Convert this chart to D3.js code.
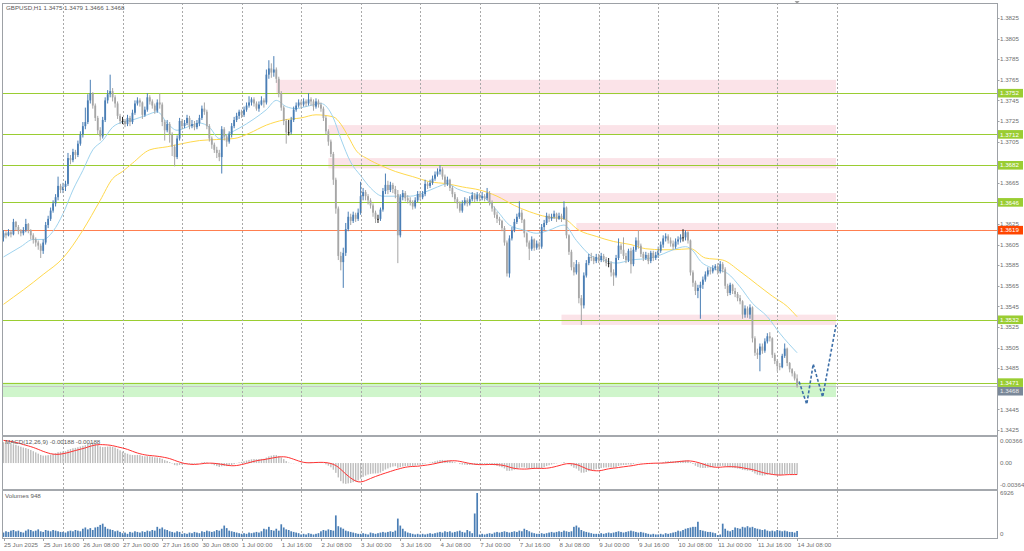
<!DOCTYPE html>
<html><head><meta charset="utf-8">
<script src="https://cdn.jsdelivr.net/npm/d3@7"></script>
<style>
body{margin:0;background:#fff;overflow:hidden;}
svg{display:block;font-family:"Liberation Sans",Arial,sans-serif;}
</style></head><body>
<svg id="c" width="1024" height="551"></svg>
<script>
// ---------------- DATA ----------------
const symbolTitle = "GBPUSD,H1  1.3475 1.3479 1.3466 1.3468";
const macdTitle = "MACD(12,26,9) -0.00188 -0.00188";
const volTitle = "Volumes 948";
const firstOpen = 1.3612;
const closes = [
1.3616,1.3614,1.3617,1.3615,1.3627,1.3622,1.3618,1.3616,1.3619,1.3625,1.3619,1.3614,1.3610,1.3607,1.3604,1.3599,1.3607,1.3624,1.3630,1.3638,1.3645,1.3651,1.3662,1.3658,
1.3661,1.3664,1.3689,1.3687,1.3695,1.3692,1.3703,1.3712,1.3720,1.3724,1.3745,1.3752,1.3740,1.3728,1.3716,1.3710,1.3726,1.3745,1.3751,1.3754,1.3748,1.3742,1.3730,1.3725,
1.3725,1.3722,1.3728,1.3724,1.3733,1.3742,1.3745,1.3743,1.3731,1.3736,1.3748,1.3744,1.3740,1.3735,1.3743,1.3741,1.3724,1.3716,1.3722,1.3712,1.3700,1.3690,1.3708,1.3725,
1.3720,1.3723,1.3728,1.3720,1.3722,1.3719,1.3723,1.3728,1.3737,1.3734,1.3720,1.3708,1.3702,1.3697,1.3694,1.3690,1.3717,1.3710,1.3705,1.3712,1.3720,1.3726,1.3730,1.3734,
1.3731,1.3736,1.3740,1.3743,1.3746,1.3742,1.3737,1.3741,1.3745,1.3743,1.3770,1.3776,1.3772,1.3775,1.3766,1.3752,1.3738,1.3725,1.3714,1.3714,1.3726,1.3736,1.3740,1.3743,
1.3741,1.3744,1.3742,1.3746,1.3744,1.3739,1.3744,1.3741,1.3737,1.3728,1.3715,1.3705,1.3693,1.3668,1.3640,1.3594,1.3588,1.3597,1.3620,1.3632,1.3628,1.3634,1.3630,1.3636,
1.3652,1.3656,1.3652,1.3648,1.3643,1.3636,1.3630,1.3630,1.3639,1.3657,1.3663,1.3658,1.3663,1.3659,1.3654,1.3614,1.3651,1.3655,1.3650,1.3648,1.3646,1.3642,1.3648,1.3654,
1.3651,1.3654,1.3664,1.3662,1.3665,1.3669,1.3673,1.3676,1.3678,1.3671,1.3664,1.3668,1.3660,1.3654,1.3649,1.3645,1.3638,1.3645,1.3648,1.3645,1.3649,1.3653,1.3649,1.3653,
1.3650,1.3652,1.3650,1.3655,1.3646,1.3640,1.3634,1.3630,1.3628,1.3621,1.3607,1.3577,1.3611,1.3619,1.3627,1.3632,1.3636,1.3629,1.3616,1.3607,1.3601,1.3610,1.3602,1.3606,
1.3603,1.3622,1.3626,1.3633,1.3630,1.3632,1.3635,1.3630,1.3633,1.3630,1.3641,1.3614,1.3598,1.3583,1.3578,1.3586,1.3553,1.3546,1.3575,1.3587,1.3593,1.3592,1.3589,1.3593,
1.3590,1.3594,1.3591,1.3587,1.3587,1.3578,1.3575,1.3592,1.3604,1.3600,1.3594,1.3590,1.3599,1.3586,1.3600,1.3609,1.3604,1.3596,1.3592,1.3595,1.3589,1.3597,1.3592,1.3595,
1.3599,1.3605,1.3611,1.3613,1.3609,1.3606,1.3603,1.3608,1.3610,1.3612,1.3612,1.3617,1.3609,1.3578,1.3568,1.3560,1.3563,1.3566,1.3571,1.3576,1.3580,1.3579,1.3582,1.3584,
1.3579,1.3586,1.3581,1.3565,1.3558,1.3566,1.3560,1.3557,1.3553,1.3550,1.3537,1.3543,1.3537,1.3544,1.3514,1.3500,1.3498,1.3506,1.3502,1.3511,1.3516,1.3514,1.3498,1.3492,
1.3487,1.3486,1.3497,1.3504,1.3490,1.3484,1.3480,1.3475,1.3468];
const highs = [
1.3619,1.3618,1.3620,1.3619,1.3630,1.3628,1.3624,1.3620,1.3622,1.3630,1.3626,1.3620,1.3616,1.3612,1.3609,1.3606,1.3610,1.3627,1.3633,1.3641,1.3648,1.3654,1.3671,1.3664,
1.3665,1.3667,1.3694,1.3692,1.3698,1.3697,1.3706,1.3715,1.3724,1.3738,1.3751,1.3765,1.3753,1.3742,1.3730,1.3719,1.3729,1.3748,1.3755,1.3770,1.3757,1.3750,1.3744,1.3732,
1.3729,1.3727,1.3731,1.3730,1.3736,1.3745,1.3748,1.3747,1.3744,1.3739,1.3752,1.3750,1.3746,1.3742,1.3746,1.3752,1.3743,1.3726,1.3726,1.3724,1.3714,1.3702,1.3711,1.3728,
1.3727,1.3726,1.3731,1.3730,1.3726,1.3725,1.3726,1.3731,1.3740,1.3743,1.3736,1.3722,1.3710,1.3704,1.3700,1.3697,1.3720,1.3719,1.3712,1.3715,1.3723,1.3729,1.3733,1.3736,
1.3736,1.3739,1.3743,1.3749,1.3748,1.3748,1.3744,1.3744,1.3749,1.3747,1.3775,1.3784,1.3781,1.3788,1.3777,1.3768,1.3754,1.3740,1.3727,1.3726,1.3729,1.3739,1.3743,1.3746,
1.3745,1.3747,1.3746,1.3752,1.3748,1.3746,1.3747,1.3746,1.3743,1.3739,1.3730,1.3717,1.3707,1.3695,1.3670,1.3642,1.3598,1.3602,1.3626,1.3637,1.3635,1.3637,1.3636,1.3640,
1.3666,1.3660,1.3658,1.3654,1.3650,1.3645,1.3638,1.3634,1.3641,1.3660,1.3674,1.3667,1.3666,1.3665,1.3662,1.3658,1.3654,1.3658,1.3657,1.3653,1.3651,1.3648,1.3651,1.3657,
1.3657,1.3657,1.3668,1.3666,1.3668,1.3672,1.3676,1.3679,1.3682,1.3680,1.3673,1.3671,1.3669,1.3662,1.3656,1.3651,1.3647,1.3648,1.3651,1.3650,1.3652,1.3656,1.3655,1.3656,
1.3655,1.3656,1.3654,1.3660,1.3657,1.3648,1.3642,1.3637,1.3632,1.3629,1.3623,1.3609,1.3614,1.3622,1.3630,1.3635,1.3647,1.3639,1.3630,1.3617,1.3609,1.3613,1.3611,1.3609,
1.3608,1.3625,1.3629,1.3636,1.3635,1.3635,1.3638,1.3636,1.3636,1.3635,1.3647,1.3642,1.3615,1.3600,1.3588,1.3590,1.3588,1.3556,1.3578,1.3590,1.3596,1.3597,1.3594,1.3596,
1.3596,1.3597,1.3596,1.3593,1.3592,1.3589,1.3581,1.3595,1.3611,1.3606,1.3612,1.3597,1.3601,1.3602,1.3603,1.3612,1.3619,1.3606,1.3598,1.3598,1.3597,1.3599,1.3599,1.3598,
1.3603,1.3608,1.3614,1.3616,1.3615,1.3612,1.3609,1.3611,1.3613,1.3615,1.3620,1.3619,1.3618,1.3610,1.3580,1.3570,1.3566,1.3569,1.3574,1.3579,1.3583,1.3583,1.3585,1.3586,
1.3587,1.3589,1.3588,1.3583,1.3567,1.3568,1.3567,1.3563,1.3559,1.3556,1.3551,1.3546,1.3545,1.3547,1.3545,1.3516,1.3504,1.3509,1.3509,1.3514,1.3519,1.3520,1.3515,1.3500,
1.3494,1.3490,1.3499,1.3509,1.3505,1.3491,1.3485,1.3482,1.3479];
const lows = [
1.3608,1.3611,1.3613,1.3612,1.3614,1.3619,1.3615,1.3613,1.3614,1.3617,1.3616,1.3610,1.3606,1.3603,1.3600,1.3592,1.3596,1.3605,1.3621,1.3628,1.3636,1.3642,1.3648,1.3655,
1.3655,1.3657,1.3662,1.3683,1.3685,1.3688,1.3690,1.3701,1.3709,1.3717,1.3722,1.3742,1.3737,1.3725,1.3712,1.3706,1.3708,1.3724,1.3742,1.3748,1.3744,1.3738,1.3727,1.3722,
1.3722,1.3719,1.3720,1.3720,1.3722,1.3731,1.3740,1.3739,1.3727,1.3729,1.3734,1.3741,1.3737,1.3732,1.3733,1.3737,1.3720,1.3706,1.3714,1.3704,1.3691,1.3681,1.3688,1.3706,
1.3717,1.3718,1.3721,1.3717,1.3718,1.3716,1.3717,1.3720,1.3726,1.3731,1.3717,1.3705,1.3698,1.3694,1.3689,1.3686,1.3674,1.3706,1.3700,1.3703,1.3709,1.3718,1.3724,1.3727,
1.3728,1.3729,1.3734,1.3738,1.3740,1.3739,1.3735,1.3734,1.3740,1.3738,1.3741,1.3766,1.3767,1.3768,1.3762,1.3748,1.3735,1.3721,1.3703,1.3711,1.3712,1.3724,1.3734,1.3738,
1.3738,1.3739,1.3739,1.3740,1.3740,1.3735,1.3737,1.3738,1.3734,1.3725,1.3712,1.3701,1.3690,1.3663,1.3635,1.3590,1.3580,1.3563,1.3594,1.3618,1.3624,1.3626,1.3627,1.3628,
1.3634,1.3648,1.3648,1.3644,1.3640,1.3632,1.3626,1.3626,1.3628,1.3637,1.3654,1.3654,1.3656,1.3655,1.3650,1.3587,1.3612,1.3648,1.3647,1.3645,1.3643,1.3639,1.3640,1.3646,
1.3648,1.3649,1.3652,1.3659,1.3660,1.3663,1.3667,1.3671,1.3673,1.3668,1.3661,1.3662,1.3657,1.3651,1.3646,1.3640,1.3636,1.3636,1.3643,1.3642,1.3643,1.3647,1.3646,1.3647,
1.3647,1.3648,1.3647,1.3648,1.3643,1.3637,1.3631,1.3626,1.3624,1.3618,1.3604,1.3574,1.3573,1.3609,1.3617,1.3625,1.3630,1.3626,1.3612,1.3603,1.3590,1.3599,1.3599,1.3600,
1.3600,1.3601,1.3619,1.3624,1.3627,1.3628,1.3630,1.3627,1.3629,1.3627,1.3629,1.3611,1.3595,1.3580,1.3575,1.3576,1.3548,1.3527,1.3543,1.3573,1.3585,1.3589,1.3586,1.3587,
1.3587,1.3588,1.3588,1.3584,1.3583,1.3574,1.3565,1.3573,1.3590,1.3596,1.3591,1.3587,1.3588,1.3577,1.3584,1.3598,1.3601,1.3593,1.3589,1.3590,1.3586,1.3587,1.3589,1.3590,
1.3592,1.3597,1.3602,1.3608,1.3606,1.3603,1.3600,1.3601,1.3605,1.3607,1.3608,1.3609,1.3606,1.3575,1.3564,1.3556,1.3553,1.3533,1.3562,1.3569,1.3574,1.3576,1.3577,1.3580,
1.3576,1.3577,1.3578,1.3562,1.3555,1.3556,1.3557,1.3554,1.3550,1.3547,1.3533,1.3534,1.3534,1.3533,1.3510,1.3497,1.3494,1.3482,1.3499,1.3500,1.3509,1.3511,1.3495,1.3489,
1.3482,1.3483,1.3485,1.3495,1.3487,1.3481,1.3477,1.3473,1.3466];
const volumes = [
700,900,800,1000,1100,900,1000,800,700,1000,1200,1100,900,1000,1200,900,800,1100,1000,900,1100,1000,900,800,
800,700,900,1000,900,1100,1000,900,1300,1500,1200,1400,1100,1500,1600,1900,2100,1600,1300,1200,1100,900,1000,800,
600,700,500,800,700,900,800,700,900,800,1000,900,1100,1000,1600,1300,1500,1200,1100,900,800,700,900,800,
500,600,500,700,600,800,700,600,900,800,1000,900,800,900,1100,1000,1300,1800,1400,1000,900,800,700,600,
500,600,500,700,600,700,800,700,900,1300,1200,1600,1100,1000,1300,1000,2000,1500,1200,1100,900,800,700,600,
400,500,400,600,500,400,500,600,900,1100,1000,1200,1100,1000,3400,1700,1500,1300,1000,900,800,700,600,500,
500,600,500,400,700,600,500,600,700,800,700,800,900,800,1000,2900,1800,1300,900,700,600,500,400,500,
400,500,400,500,600,500,600,700,800,700,900,800,900,700,800,900,1000,800,700,1100,900,600,3700,6926,
400,500,400,500,600,500,700,800,700,800,900,800,700,800,900,800,1000,900,1300,1100,900,700,600,500,
500,600,500,600,700,800,700,800,900,800,1000,900,800,900,1600,1800,1500,1100,900,800,700,600,500,500,
500,600,500,600,700,600,700,800,900,800,700,800,900,1000,900,800,700,800,700,600,500,400,500,400,
400,500,400,600,500,600,700,800,1000,900,1100,1300,1400,1500,1600,1600,2400,1100,1000,900,800,800,700,600,
300,400,2100,1300,1000,900,1100,1500,1400,1300,1600,1500,1700,1500,1600,1400,1300,1200,1100,1200,1000,900,1000,900,
1100,1000,900,1000,900,800,800,700,948];
// moving averages read at sample bars
const maFastIdx = [0,7,12,16,20,24,28,32,36,40,44,48,52,58,62,66,70,74,79,83,87,91,95,101,106,110,114,118,122,128,133,136,140,144,148,153,158,164,169,175,179,183,188,193,199,204,210,215,220,226,231,237,242,247,253,261,266,270,275,278,281,286,292,297,302,308,313,320];
const maFastVal = [1.3593,1.3603,1.3610,1.3610,1.3618,1.3635,1.3658,1.3677,1.3697,1.3706,1.3719,1.3724,1.3726,1.3731,1.3734,1.3723,1.3716,1.3719,1.3723,1.3719,1.3708,1.3713,1.3718,1.3727,1.3736,1.3745,1.3739,1.3737,1.3739,1.3742,1.3728,1.3708,1.3685,1.3672,1.3660,1.3652,1.3652,1.3652,1.3655,1.3661,1.3664,1.3659,1.3655,1.3652,1.3638,1.3624,1.3619,1.3616,1.3619,1.3624,1.3609,1.3594,1.3590,1.3587,1.3590,1.3592,1.3596,1.3600,1.3603,1.3599,1.3589,1.3582,1.3577,1.3564,1.3548,1.3535,1.3519,1.3500];
const maSlowIdx = [0,4,8,16,24,32,39,44,48,52,59,66,72,79,86,93,99,106,113,120,126,133,136,139,142,147,152,158,165,172,179,185,192,199,206,212,219,226,232,239,246,253,259,266,270,277,283,290,297,304,310,316,320];
const maSlowVal = [1.3547,1.3554,1.3561,1.3576,1.3592,1.3619,1.3648,1.3669,1.3676,1.3684,1.3697,1.3700,1.3703,1.3706,1.3707,1.3708,1.3713,1.3721,1.3726,1.3728,1.3731,1.3729,1.3722,1.3710,1.3697,1.3688,1.3682,1.3676,1.3671,1.3666,1.3664,1.3661,1.3658,1.3652,1.3643,1.3637,1.3632,1.3630,1.3619,1.3613,1.3608,1.3605,1.3601,1.3600,1.3600,1.3601,1.3592,1.3590,1.3579,1.3566,1.3555,1.3545,1.3535];
// MACD(12,26,9) starting state before the first visible bar
const emaSeeds = [1.3589, 1.3554];
const signalSeed = 0.0038;
// horizontal levels
const greenLevels = [1.3752, 1.3712, 1.3682, 1.3646, 1.3532, 1.3471];
const redLevels = [1.3619];
const bidPrice = 1.3468;
// zones (pink boxes) and the green box
const zoneLow   = [1.3751, 1.3712, 1.3679, 1.3646, 1.3619, 1.3527];
const zoneHigh  = [1.3765, 1.3721, 1.3689, 1.3655, 1.3626, 1.3537];
const zoneStart = [110, 131, 131, 195, 231, 225];
const zoneEnd = 335.7;
const greenZone = [1.3457, 1.3471];
// projected path
const projIdx = [320.8, 323.9, 326.5, 330.3, 335.7];
const projVal = [1.3472, 1.3450, 1.3489, 1.3457, 1.3527];
// axes
const priceTicks = d3.range(0, 21).map(k => +(1.3425 + k * 0.002).toFixed(4));
const timeIdx = d3.range(0, 321, 16);
const timeLabels = ["25 Jun 2025","25 Jun 16:00","26 Jun 08:00","27 Jun 00:00","27 Jun 16:00","30 Jun 08:00","1 Jul 00:00","1 Jul 16:00","2 Jul 08:00","3 Jul 00:00","3 Jul 16:00","4 Jul 08:00","7 Jul 00:00","7 Jul 16:00","8 Jul 08:00","9 Jul 00:00","9 Jul 16:00","10 Jul 08:00","11 Jul 00:00","11 Jul 16:00","14 Jul 08:00"];
const gridIdx = d3.range(24, 337, 24);
const macdTicks = [0.00366, 0, -0.00364];
const macdTickLabels = ["0.00366", "0.00", "-0.00364"];
const volTicks = [6926, 0];

// ---------------- LAYOUT ----------------
const L = 2, R = 997;
const mainTop = 3, mainBot = 435, macdTop = 437, macdBot = 489, volTop = 491, volBot = 538;
const svg = d3.select("#c");
const x = d3.scaleLinear().domain([0, 320]).range([3.5, 3.5 + 320 * 2.48]);
const y = d3.scaleLinear().domain([1.3425, 1.3825]).range([430, 18]);
const ym = d3.scaleLinear().domain([-0.00364, 0.00366]).range([485, 441]);
const yv = d3.scaleLinear().domain([0, 6926]).range([537, 493]);
const axisCol = "#707070", font = 6.2;

const defs = svg.append("defs");
[["cm", mainTop, mainBot], ["cd", macdTop, macdBot], ["cv", volTop, volBot]].forEach(([id, t, b]) => {
  defs.append("clipPath").attr("id", id).append("rect").attr("x", L).attr("y", t).attr("width", R - L).attr("height", b - t);
});
svg.append("rect").attr("width", 1024).attr("height", 551).attr("fill", "#fff");

const gMain = svg.append("g").attr("clip-path", "url(#cm)");
gMain.selectAll(".zone").data(zoneLow).join("rect")
  .attr("x", (d, i) => x(zoneStart[i])).attr("width", (d, i) => x(zoneEnd) - x(zoneStart[i]))
  .attr("y", (d, i) => y(zoneHigh[i])).attr("height", (d, i) => y(zoneLow[i]) - y(zoneHigh[i]))
  .attr("fill", "#fbe3e8");
gMain.append("rect").attr("x", L).attr("width", x(zoneEnd) - L)
  .attr("y", y(greenZone[1])).attr("height", y(greenZone[0]) - y(greenZone[1])).attr("fill", "#cff5cb");

// grid (all panels)
svg.append("g").selectAll("line").data(gridIdx).join("line")
  .attr("x1", d => Math.round(x(d)) + 0.5).attr("x2", d => Math.round(x(d)) + 0.5)
  .attr("y1", mainTop).attr("y2", volBot)
  .attr("stroke", "#a9a9a9").attr("stroke-width", 1).attr("stroke-dasharray", "2,2");

// bid line and levels
gMain.append("line").attr("x1", L).attr("x2", R).attr("y1", Math.round(y(bidPrice)) + 0.5).attr("y2", Math.round(y(bidPrice)) + 0.5)
  .attr("stroke", "#c8c8c8").attr("stroke-width", 1);
gMain.selectAll(".gl").data(greenLevels).join("line")
  .attr("x1", L).attr("x2", R).attr("y1", d => Math.round(y(d)) + 0.5).attr("y2", d => Math.round(y(d)) + 0.5)
  .attr("stroke", "#9acd32").attr("stroke-width", 1);
gMain.selectAll(".rl").data(redLevels).join("line")
  .attr("x1", L).attr("x2", R).attr("y1", d => Math.round(y(d)) + 0.5).attr("y2", d => Math.round(y(d)) + 0.5)
  .attr("stroke", "#ff7f50").attr("stroke-width", 1);

// moving averages
const maLine = d3.line().x(d => x(d[0])).y(d => y(d[1])).curve(d3.curveMonotoneX);
gMain.append("path").attr("d", maLine(maSlowIdx.map((d, i) => [d, maSlowVal[i]])))
  .attr("fill", "none").attr("stroke", "#ffd94d").attr("stroke-width", 1);
gMain.append("path").attr("d", maLine(maFastIdx.map((d, i) => [d, maFastVal[i]])))
  .attr("fill", "none").attr("stroke", "#9fd3ee").attr("stroke-width", 1);

// candles
const bars = closes.map((c, i) => {
  const o = i === 0 ? firstOpen : closes[i - 1];
  return { i, o, c, h: Math.max(highs[i], o, c), l: Math.min(lows[i], o, c) };
});
const candleCol = d => d.c > d.o ? "#4a7eb5" : (d.c < d.o ? "#a6a6a6" : "#222");
const gC = gMain.append("g");
gC.selectAll(".w").data(bars).join("rect")
  .attr("x", d => x(d.i) - 0.5).attr("width", 1)
  .attr("y", d => y(d.h)).attr("height", d => Math.max(0.8, y(d.l) - y(d.h)))
  .attr("fill", candleCol);
gC.selectAll(".b").data(bars).join("rect")
  .attr("x", d => x(d.i) - 0.9).attr("width", 1.8)
  .attr("y", d => y(Math.max(d.o, d.c))).attr("height", d => Math.max(0.9, Math.abs(y(d.o) - y(d.c))))
  .attr("fill", candleCol);

// projection
gMain.append("path").attr("d", d3.line().x(d => x(d[0])).y(d => y(d[1]))(projIdx.map((d, i) => [d, projVal[i]])))
  .attr("fill", "none").attr("stroke", "#3d6fa8").attr("stroke-width", 1.6).attr("stroke-dasharray", "3,2");

// ---------------- MACD ----------------
let e12 = emaSeeds[0], e26 = emaSeeds[1];
const macdMain = closes.map(c => { e12 += (2 / 13) * (c - e12); e26 += (2 / 27) * (c - e26); return e12 - e26; });
const macdSig = macdMain.map((m, i) => d3.mean(d3.range(i - 8, i + 1), j => j < 0 ? signalSeed : macdMain[j]));
const gM = svg.append("g").attr("clip-path", "url(#cd)");
gM.selectAll("rect").data(macdMain).join("rect")
  .attr("x", (d, i) => x(i) - 0.7).attr("width", 1.4)
  .attr("y", d => Math.min(ym(d), ym(0))).attr("height", d => Math.abs(ym(d) - ym(0)))
  .attr("fill", "#bdbdbd");
gM.append("path").attr("d", d3.line().x((d, i) => x(i)).y(d => ym(d))(macdSig))
  .attr("fill", "none").attr("stroke", "#ff3030").attr("stroke-width", 1);

// ---------------- VOLUMES ----------------
const gV = svg.append("g").attr("clip-path", "url(#cv)");
gV.selectAll("rect").data(volumes).join("rect")
  .attr("x", (d, i) => x(i) - 0.85).attr("width", 1.7)
  .attr("y", d => yv(d)).attr("height", d => yv(0) - yv(d))
  .attr("fill", "#4a7eb5");

// ---------------- FRAME ----------------
const fr = svg.append("g").attr("fill", "none");
fr.append("rect").attr("x", L + 0.5).attr("y", mainTop + 0.5).attr("width", R - L).attr("height", volBot - mainTop).attr("stroke", "#9da1a6");
[mainBot + 1, macdBot + 1].forEach(v => fr.append("line").attr("x1", L).attr("x2", R + 1).attr("y1", v).attr("y2", v).attr("stroke", "#a4a8ad").attr("stroke-width", 2));
svg.append("path").attr("d", `M${x(320) - 2.5},1 L${x(320) + 2.5},1 L${x(320)},4 Z`).attr("fill", "#a0a0a0");

// ---------------- AXES ----------------
const gA = svg.append("g").attr("font-size", font).attr("fill", axisCol);
const bidBoxY = y(greenLevels[5]) + 8.6;   // bid box sits just under the 1.3471 box
const boxYs = greenLevels.concat(redLevels).map(v => y(v)).concat([bidBoxY]);
// labels hidden behind a level box in the reference are not drawn
const shownTicks = priceTicks.filter(t => boxYs.every(by => Math.abs(y(t) - by) > 5.5));
gA.selectAll(".pt").data(shownTicks).join("text")
  .attr("x", 1000).attr("y", d => y(d) + 2.2).text(d => d.toFixed(4));
gA.selectAll(".ptm").data(priceTicks).join("line")
  .attr("x1", R).attr("x2", R + 2.5).attr("y1", d => Math.round(y(d)) + 0.5).attr("y2", d => Math.round(y(d)) + 0.5)
  .attr("stroke", "#9da1a6");
function levelBox(yy, fill, txt, tcol) {
  gA.append("rect").attr("x", R + 1).attr("y", yy - 4.3).attr("width", 25).attr("height", 8.6).attr("fill", fill);
  gA.append("text").attr("x", 1000).attr("y", yy + 2.2).attr("fill", tcol).text(txt);
}
levelBox(bidBoxY, "#7a8899", bidPrice.toFixed(4), "#e8e8e8");
greenLevels.forEach(v => levelBox(y(v), "#9acd32", v.toFixed(4), "#fff"));
redLevels.forEach(v => levelBox(y(v), "#ff4500", v.toFixed(4), "#fff"));
gA.selectAll(".mt").data(macdTicks).join("text").attr("x", 1000).attr("y", d => ym(d) + 2.2).text((d, i) => macdTickLabels[i]);
gA.selectAll(".vt").data(volTicks).join("text").attr("x", 1000).attr("y", d => Math.min(yv(d), volBot - 4) + 2.2).text(d => d);
gA.selectAll(".tl").data(timeIdx).join("text")
  .attr("x", d => x(d) + 0.5).attr("y", 547).text((d, i) => timeLabels[i]);
gA.selectAll(".tt").data(timeIdx).join("line")
  .attr("x1", d => Math.round(x(d)) + 0.5).attr("x2", d => Math.round(x(d)) + 0.5)
  .attr("y1", volBot).attr("y2", volBot + 3).attr("stroke", "#9da1a6");
const gT = svg.append("g").attr("font-size", font).attr("fill", "#5a5a5a");
gT.append("text").attr("x", 6).attr("y", 10).text(symbolTitle);
gT.append("text").attr("x", 5).attr("y", macdTop + 7).text(macdTitle);
gT.append("text").attr("x", 5).attr("y", volTop + 7).text(volTitle);
</script>
</body></html>
